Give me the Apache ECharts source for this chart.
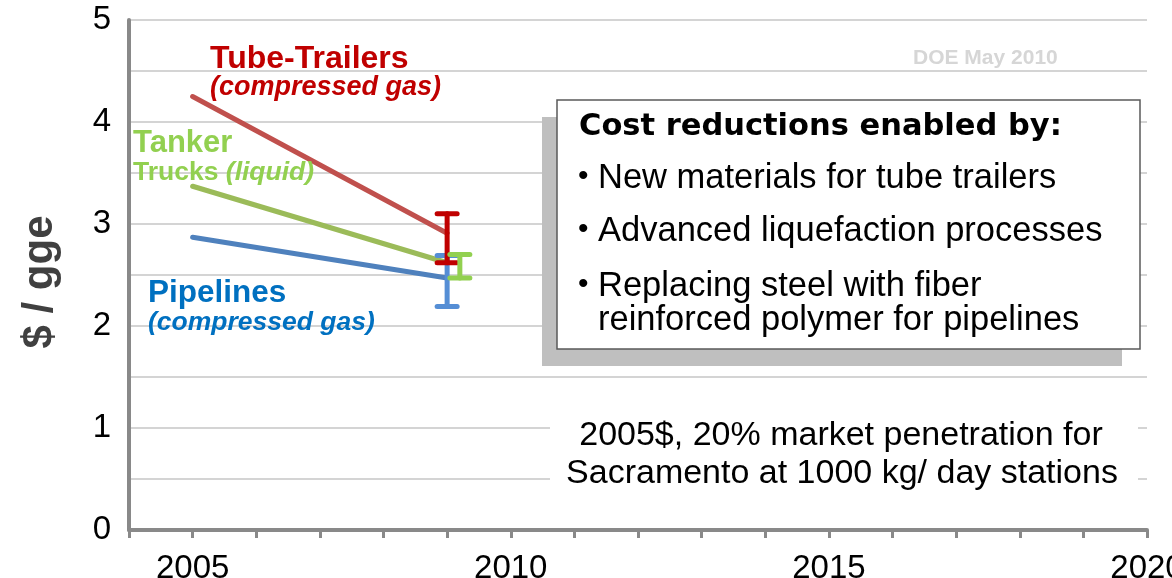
<!DOCTYPE html>
<html>
<head>
<meta charset="utf-8">
<script src="https://cdn.jsdelivr.net/npm/echarts@6/dist/echarts.min.js"></script>
<style>
html,body{margin:0;padding:0;background:#fff;}
#c{width:1172px;height:578px;}
</style>
</head>
<body>
<div id="c"></div>
<script>
// ---- data ----
const years = [2005, 2009];
const tubeTrailers = [4.25, 2.91];
const tankerTrucks = [3.37, 2.62];
const pipelines = [2.87, 2.47];

// error bars: [year, low, high]
const pipelinesErr = [[2009, 2.19, 2.69]];
const tubeTrailersErr = [[2009, 2.62, 3.10]];
const tankerTrucksErr = [[2009.2, 2.47, 2.70]];

const xTickLabels = [2005, 2010, 2015, 2020];
const yTickLabels = [0, 1, 2, 3, 4, 5];

const FONT = '"Liberation Sans", Arial, sans-serif';

function pairs(xs, ys) { return xs.map((x, i) => [x, ys[i]]); }

function errRender(color) {
  return function (params, api) {
    const x = api.value(0), lo = api.value(1), hi = api.value(2);
    const p1 = api.coord([x, lo]);
    const p2 = api.coord([x, hi]);
    const w = 10;
    const st = { stroke: color, lineWidth: 5, lineCap: 'round' };
    return {
      type: 'group',
      children: [
        { type: 'line', shape: { x1: p1[0], y1: p1[1], x2: p2[0], y2: p2[1] }, style: st },
        { type: 'line', shape: { x1: p1[0] - w, y1: p1[1], x2: p1[0] + w, y2: p1[1] }, style: st },
        { type: 'line', shape: { x1: p2[0] - w, y1: p2[1], x2: p2[0] + w, y2: p2[1] }, style: st }
      ]
    };
  };
}

const chart = echarts.init(document.getElementById('c'), null, { renderer: 'canvas' });

const option = {
  animation: false,
  backgroundColor: '#fff',
  grid: { left: 129, right: 25, top: 20, bottom: 48, containLabel: false, outerBoundsMode: 'none' },
  xAxis: {
    type: 'value', min: 2004, max: 2020, interval: 1,
    axisLine: { lineStyle: { color: '#898989', width: 4 } },
    axisTick: { show: true, length: 8, lineStyle: { color: '#898989', width: 3 } },
    axisLabel: {
      fontSize: 33, color: '#000', fontFamily: FONT, margin: 22, hideOverlap: false,
      formatter: v => xTickLabels.includes(v) ? String(v) : ''
    },
    splitLine: { show: false }
  },
  yAxis: {
    type: 'value', min: 0, max: 5, interval: 0.5,
    axisLine: { show: true, lineStyle: { color: '#898989', width: 4 } },
    axisTick: { show: false },
    axisLabel: {
      fontSize: 33, color: '#000', fontFamily: FONT, margin: 18,
      formatter: v => yTickLabels.includes(v) ? String(v) : ''
    },
    splitLine: { show: true, lineStyle: { color: '#d4d4d4', width: 2 } },
    name: '$ / gge', nameLocation: 'middle', nameRotate: 90, nameGap: 68,
    nameTextStyle: { fontSize: 42, fontWeight: 'bold', color: '#404040', fontFamily: FONT, padding: [0, 14, 0, 0] }
  },
  series: [
    { type: 'line', name: 'Pipelines', data: pairs(years, pipelines), symbol: 'none',
      lineStyle: { color: '#4f81bd', width: 5, cap: 'round' }, z: 2 },
    { type: 'line', name: 'Tanker Trucks', data: pairs(years, tankerTrucks), symbol: 'none',
      lineStyle: { color: '#9bbb59', width: 5, cap: 'round' }, z: 2 },
    { type: 'line', name: 'Tube-Trailers', data: pairs(years, tubeTrailers), symbol: 'none',
      lineStyle: { color: '#c0504d', width: 5, cap: 'round' }, z: 2 },
    { type: 'custom', name: 'Pipelines range', data: pipelinesErr, renderItem: errRender('#558ed5'), z: 3 },
    { type: 'custom', name: 'Tube-Trailers range', data: tubeTrailersErr, renderItem: errRender('#c00000'), z: 4 },
    { type: 'custom', name: 'Tanker Trucks range', data: tankerTrucksErr, renderItem: errRender('#92d050'), z: 5 }
  ],
  graphic: [
    // series labels
    { type: 'text', left: 210, top: 43, z: 10, style: { text: 'Tube-Trailers', font: 'bold 32px ' + FONT, fill: '#c00000' } },
    { type: 'text', left: 210, top: 74, z: 10, style: { text: '(compressed gas)', font: 'italic bold 27px ' + FONT, fill: '#c00000' } },
    { type: 'text', left: 133, top: 128, z: 10, style: { text: 'Tanker', font: 'bold 31px ' + FONT, fill: '#92d050' } },
    { type: 'text', left: 133, top: 159, z: 10, style: {
      text: '{a|Trucks }{b|(liquid)}',
      rich: {
        a: { font: 'bold 26.5px ' + FONT, fill: '#92d050' },
        b: { font: 'italic bold 26.5px ' + FONT, fill: '#92d050' }
      } } },
    { type: 'text', left: 148, top: 277, z: 10, style: { text: 'Pipelines', font: 'bold 31.5px ' + FONT, fill: '#0070c0' } },
    { type: 'text', left: 148, top: 309, z: 10, style: { text: '(compressed gas)', font: 'italic bold 26.5px ' + FONT, fill: '#0070c0' } },
    // DOE note
    { type: 'text', left: 913, top: 48, z: 10, style: { text: 'DOE May 2010', font: 'bold 21px ' + FONT, fill: '#d6d6d6' } },
    // callout box
    { type: 'rect', z: 10, shape: { x: 542, y: 117, width: 580, height: 249 }, style: { fill: '#bfbfbf' } },
    { type: 'rect', z: 11, shape: { x: 557, y: 100, width: 583, height: 249 }, style: { fill: '#fff', stroke: '#595959', lineWidth: 1.5 } },
    { type: 'text', z: 12, left: 579, top: 112, style: { text: 'Cost reductions enabled by:', font: 'bold 30.5px "DejaVu Sans", sans-serif', fill: '#000' } },
    { type: 'text', z: 12, left: 578, top: 162, style: { text: '•', font: '30px ' + FONT, fill: '#000' } },
    { type: 'text', z: 12, left: 598, top: 161, style: { text: 'New materials for tube trailers', font: '34.5px ' + FONT, fill: '#000' } },
    { type: 'text', z: 12, left: 578, top: 215, style: { text: '•', font: '30px ' + FONT, fill: '#000' } },
    { type: 'text', z: 12, left: 598, top: 214, style: { text: 'Advanced liquefaction processes', font: '34.5px ' + FONT, fill: '#000' } },
    { type: 'text', z: 12, left: 578, top: 270, style: { text: '•', font: '30px ' + FONT, fill: '#000' } },
    { type: 'text', z: 12, left: 598, top: 269, style: { text: 'Replacing steel with fiber', font: '34.5px ' + FONT, fill: '#000' } },
    { type: 'text', z: 12, left: 598, top: 303, style: { text: 'reinforced polymer for pipelines', font: '34.5px ' + FONT, fill: '#000' } },
    // bottom note
    { type: 'rect', z: 10, shape: { x: 550, y: 405, width: 588, height: 95 }, style: { fill: '#fff' } },
    { type: 'text', z: 12, x: 841, y: 436, style: { text: '2005$, 20% market penetration for', font: '34px ' + FONT, fill: '#000', align: 'center', verticalAlign: 'middle' } },
    { type: 'text', z: 12, x: 842, y: 474, style: { text: 'Sacramento at 1000 kg/ day stations', font: '34px ' + FONT, fill: '#000', align: 'center', verticalAlign: 'middle' } }
  ]
};
chart.setOption(option);
</script>
</body>
</html>
